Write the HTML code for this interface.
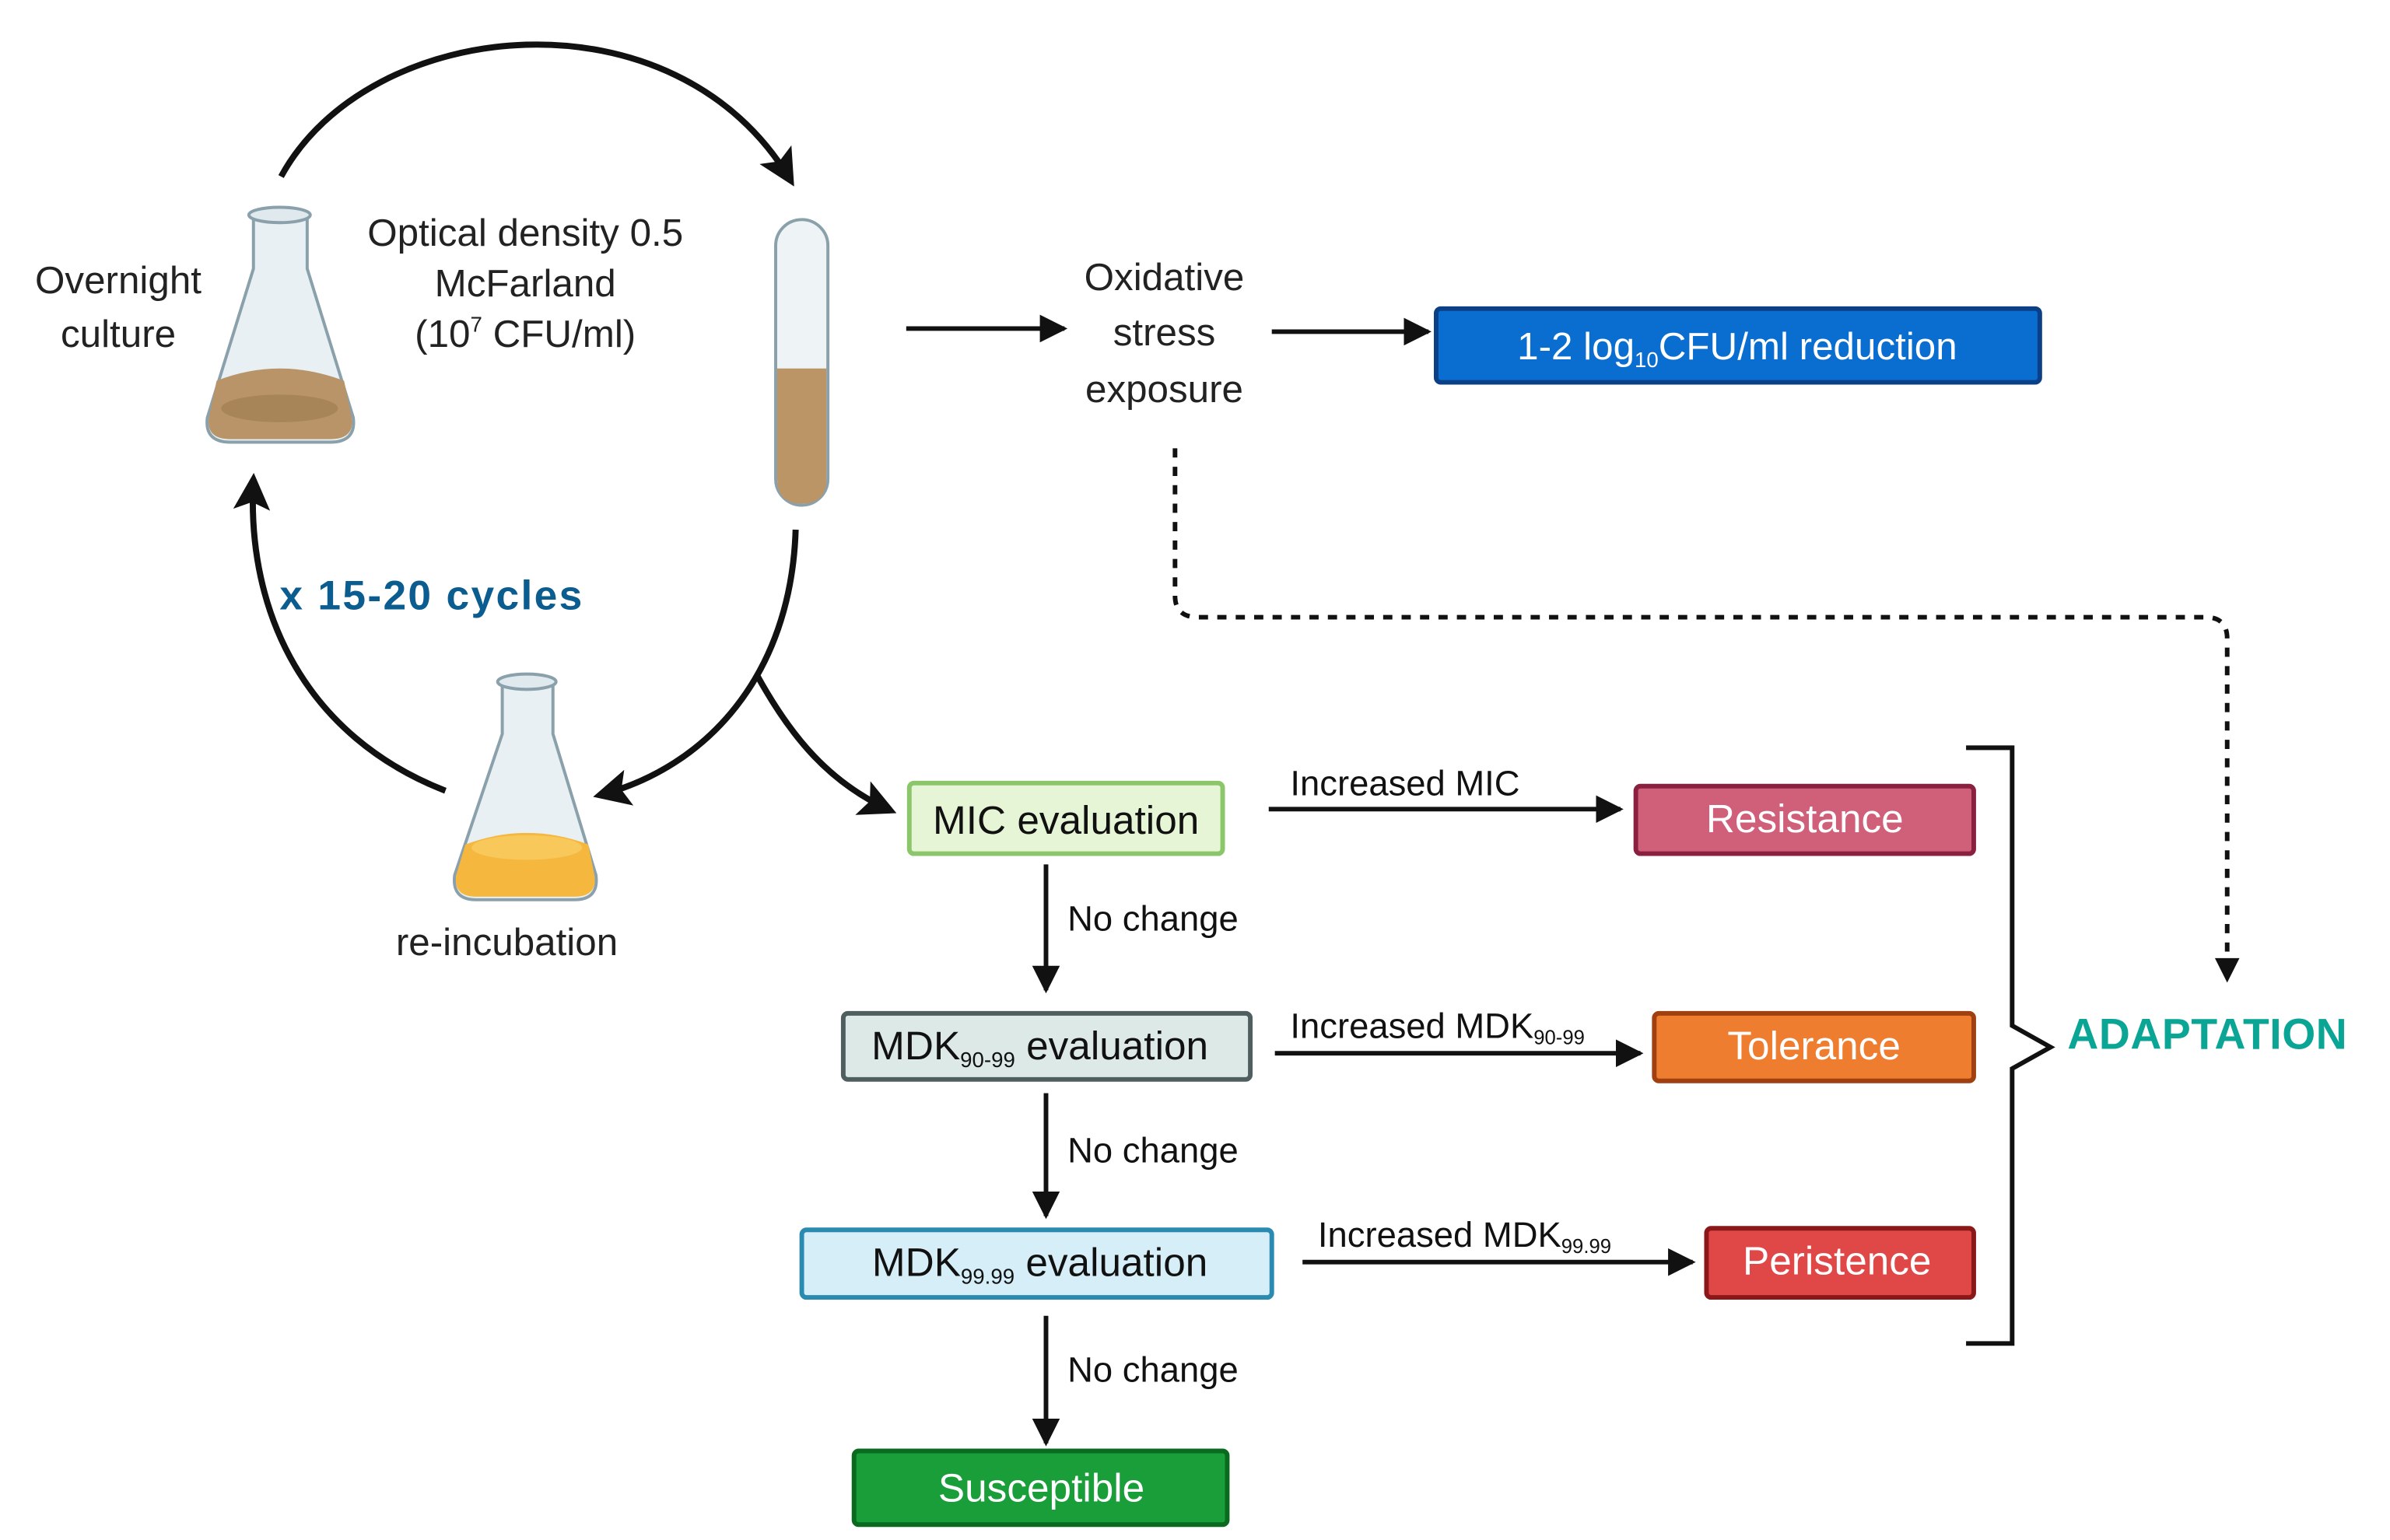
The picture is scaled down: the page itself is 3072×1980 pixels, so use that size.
<!DOCTYPE html>
<html><head><meta charset="utf-8"><style>html,body{margin:0;padding:0;background:#fff}svg{display:block}</style></head>
<body>
<svg width="3072" height="1980" viewBox="0 0 1556 1003" preserveAspectRatio="none" xmlns="http://www.w3.org/2000/svg" font-family="Liberation Sans, sans-serif">
<defs>
<marker id="ab" markerWidth="24" markerHeight="24" refX="20" refY="12" orient="auto" markerUnits="userSpaceOnUse"><path d="M0,0 L24,12 L0,24 L5,12 z" fill="#111"/></marker>
<marker id="am" markerWidth="18" markerHeight="18" refX="16" refY="9" orient="auto" markerUnits="userSpaceOnUse"><path d="M0,0 L18,9 L0,18 z" fill="#111"/></marker>
</defs>
<g fill="none" stroke="#111" stroke-width="4">
<path d="M183,115 C240,10 440,-10 515,118" marker-end="url(#ab)"/>
<path d="M518,345 C515,440 460,500 390,518" marker-end="url(#ab)"/>
<path d="M493,440 C515,480 540,510 580,528" marker-end="url(#ab)"/>
<path d="M290,515 C200,480 160,400 165,312" marker-end="url(#ab)"/>
</g>
<g stroke="#111" stroke-width="3" fill="none">
<line x1="590" y1="214" x2="693" y2="214" marker-end="url(#am)"/>
<line x1="828" y1="216" x2="930" y2="216" marker-end="url(#am)"/>
<line x1="826" y1="527" x2="1055" y2="527" marker-end="url(#am)"/>
<line x1="830" y1="686" x2="1068" y2="686" marker-end="url(#am)"/>
<line x1="848" y1="822" x2="1102" y2="822" marker-end="url(#am)"/>
<line x1="681" y1="563" x2="681" y2="645" marker-end="url(#am)"/>
<line x1="681" y1="712" x2="681" y2="792" marker-end="url(#am)"/>
<line x1="681" y1="857" x2="681" y2="940" marker-end="url(#am)"/>
<path d="M765,292 L765,388 Q765,402 780,402 L1436,402 Q1450,402 1450,416 L1450,625" stroke-dasharray="6,6"/>
<path d="M1280,487 L1310,487 L1310,668 L1335,682 L1310,696 L1310,875 L1280,875"/>
</g>
<path d="M1442,624 L1458,624 L1450,640 z" fill="#111"/>
<g>
<path d="M165,140 L200,140 L200,175 L230,272 Q232,288 215,288 L150,288 Q133,288 135,272 L165,175 z" fill="#e8f0f4" stroke="#8aa0aa" stroke-width="2"/>
<ellipse cx="182" cy="140" rx="20" ry="5" fill="#dfe9ee" stroke="#8aa0aa" stroke-width="2"/>
<path d="M141,248 Q182,232 224,248 L229,272 Q231,286 215,286 L150,286 Q134,286 136,272 z" fill="#b89468"/>
<ellipse cx="182" cy="266" rx="38" ry="9" fill="#a88558"/>
</g>
<rect x="505" y="143" width="34" height="186" rx="17" fill="#eef3f6" stroke="#8aa0aa" stroke-width="2"/>
<path d="M506,240 L538,240 L538,312 Q538,328 522,328 Q506,328 506,312 z" fill="#bc9566"/>
<g>
<path d="M327,444 L360,444 L360,478 L388,570 Q390,586 374,586 L310,586 Q294,586 296,570 L327,478 z" fill="#e8f0f4" stroke="#8aa0aa" stroke-width="2"/>
<ellipse cx="343" cy="444" rx="19" ry="5" fill="#dfe9ee" stroke="#8aa0aa" stroke-width="2"/>
<path d="M303,550 Q343,535 383,550 L387,570 Q389,584 374,584 L310,584 Q295,584 297,570 z" fill="#f5b73e"/>
<ellipse cx="343" cy="552" rx="36" ry="8" fill="#f8c85a"/>
</g>
<g font-size="25" fill="#222" text-anchor="middle">
<text x="77" y="191">Overnight</text>
<text x="77" y="226">culture</text>
<text x="342" y="160">Optical density 0.5</text>
<text x="342" y="193">McFarland</text>
<text x="342" y="226">(10<tspan font-size="14" dy="-10">7</tspan><tspan dy="10"> CFU/ml)</tspan></text>
<text x="758" y="189">Oxidative</text>
<text x="758" y="225">stress</text>
<text x="758" y="262">exposure</text>
<text x="330" y="622">re-incubation</text>
</g>
<text x="182" y="397" font-size="27" font-weight="bold" fill="#0b5c8f" textLength="197">x 15-20 cycles</text>
<rect x="935" y="201" width="393" height="48" rx="3" fill="#0a6ed1" stroke="#0b3f86" stroke-width="3"/>
<text x="1131" y="234" font-size="25" fill="#fff" text-anchor="middle">1-2 log<tspan font-size="14" dy="5">10</tspan><tspan dy="-5">CFU/ml reduction</tspan></text>
<g stroke-width="3">
<rect x="592" y="510" width="204" height="46" rx="3" fill="#e6f5d6" stroke="#8cc66a"/>
<rect x="1065" y="512" width="220" height="44" rx="3" fill="#d0607a" stroke="#8a2040"/>
<rect x="549" y="660" width="265" height="43" rx="3" fill="#dce9e6" stroke="#4f5f5f"/>
<rect x="1077" y="660" width="208" height="44" rx="3" fill="#ef7d2f" stroke="#a04010"/>
<rect x="522" y="801" width="306" height="44" rx="3" fill="#d6eef8" stroke="#2a8ab0"/>
<rect x="1111" y="800" width="174" height="45" rx="3" fill="#e04848" stroke="#8a1818"/>
<rect x="556" y="945" width="243" height="48" rx="3" fill="#1a9e3a" stroke="#0a6a20"/>
</g>
<g font-size="26" text-anchor="middle">
<text x="694" y="543" fill="#111">MIC evaluation</text>
<text x="1175" y="542" fill="#fff">Resistance</text>
<text x="677" y="690" fill="#111">MDK<tspan font-size="14" dy="5">90-99</tspan><tspan dy="-5"> evaluation</tspan></text>
<text x="1181" y="690" fill="#fff">Tolerance</text>
<text x="677" y="831" fill="#111">MDK<tspan font-size="14" dy="5">99.99</tspan><tspan dy="-5"> evaluation</tspan></text>
<text x="1196" y="830" fill="#fff">Peristence</text>
<text x="678" y="978" fill="#fff">Susceptible</text>
</g>
<g font-size="23" fill="#111">
<text x="840" y="518">Increased MIC</text>
<text x="840" y="676">Increased MDK<tspan font-size="13" dy="4">90-99</tspan></text>
<text x="858" y="812">Increased MDK<tspan font-size="13" dy="4">99.99</tspan></text>
<text x="695" y="606">No change</text>
<text x="695" y="757">No change</text>
<text x="695" y="900">No change</text>
</g>
<text x="1346" y="683" font-size="28" font-weight="bold" fill="#0aa595" textLength="182">ADAPTATION</text>
</svg>
</body></html>
